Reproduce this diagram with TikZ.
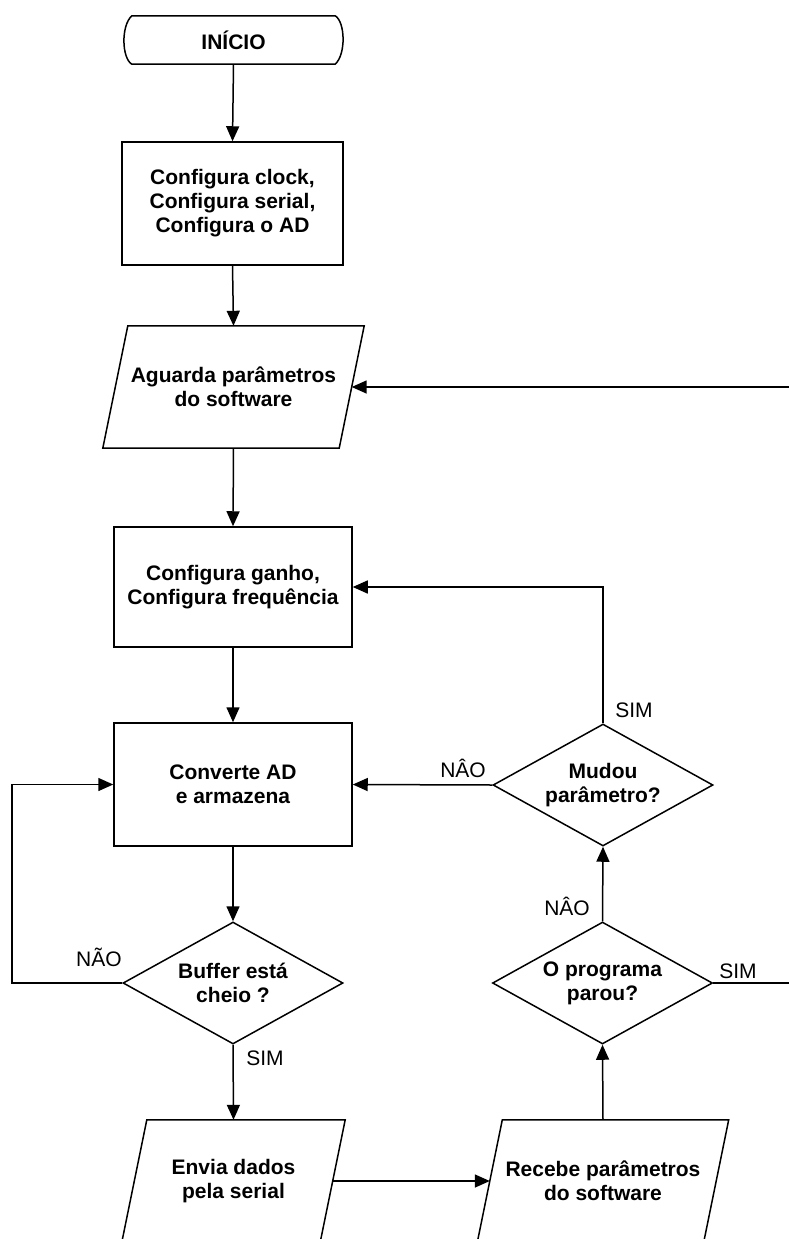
\documentclass[tikz,border=0pt]{standalone}
\usepackage{fontspec}
\setmainfont{Liberation Sans}
\usetikzlibrary{shapes.geometric,arrows.meta,calc}

\tikzset{
  txt/.style={font=\fontsize{21}{24}\selectfont},
  btxt/.style={font=\bfseries\fontsize{21}{24}\selectfont},
  line/.style={line width=1.5pt},
  flow/.style={line width=1.5pt,-{Triangle[length=15pt,width=13pt]}},
  procbox/.style={draw,line width=1.5pt,rectangle,inner sep=0pt,align=center,btxt},
  decision/.style={draw,diamond,line width=1.5pt,inner sep=0pt,aspect=1.8,
    minimum width=220pt,minimum height=122pt,align=center,btxt},
  iobox/.style={rectangle,inner sep=0pt,align=center,btxt,minimum height=122pt},
  lbl/.style={txt,anchor=base,inner sep=0pt}
}

% parallelogram drawn around a named (invisible) rectangle node
\newcommand{\ioshape}[2]{%
  \draw[line] ($(#1.north west)+(#2,0)$) -- ($(#1.north east)+(#2,0)$)
    -- ($(#1.south east)+(-#2,0)$) -- ($(#1.south west)+(-#2,0)$) -- cycle;}

\begin{document}
\begin{tikzpicture}[x=1pt,y=-1pt]
\useasboundingbox (0,0) rectangle (789,1239);
\clip (0,0) rectangle (789,1239);

% ---- nodes ----
\node[rectangle,inner sep=0pt,minimum width=203pt,minimum height=48pt,btxt] (inicio) at (233.5,40) {INÍCIO};
\draw[line,line join=round] (inicio.north west) -- (inicio.north east)
  .. controls +(10,6) and +(11,-10) .. (inicio.south east)
  -- (inicio.south west)
  .. controls +(-10,-6) and +(-11,10) .. (inicio.north west) -- cycle;

\node[procbox,minimum width=221pt,minimum height=123pt] (cfg) at (232.5,203.5)
  {Configura clock,\\Configura serial,\\Configura o AD};

\node[iobox,minimum width=236pt] (aguarda) at (233.5,387) {Aguarda parâmetros\\do software};
\ioshape{aguarda}{12.5}

\node[procbox,minimum width=238pt,minimum height=120pt] (ganho) at (233,587)
  {Configura ganho,\\Configura frequência};

\node[procbox,minimum width=238pt,minimum height=123pt] (conv) at (233,784.5)
  {Converte AD\\e armazena};

\node[decision] (buffer) at (233,983) {Buffer está\\cheio ?};

\node[iobox,minimum width=198pt] (envia) at (233.5,1181) {Envia dados\\pela serial};
\ioshape{envia}{12.5}

\node[iobox,minimum width=226pt] (recebe) at (603,1181) {Recebe parâmetros\\do software};
\ioshape{recebe}{12.5}

\node[decision] (parou) at (602.5,983) {O programa\\parou?};
\node[decision] (mudou) at (603,785) {Mudou\\parâmetro?};

\coordinate (rtop) at (800,387);
\coordinate (rbot) at (800,983);
\coordinate (lft) at (12,983);

% ---- connectors ----
\draw[flow] (inicio.south) -- (cfg.north);
\draw[flow] (cfg.south) -- (aguarda.north);
\draw[flow] (aguarda.south) -- (ganho.north);
\draw[flow] (ganho.south) -- (conv.north);
\draw[flow] (conv.south) -- (buffer.north);
\draw[flow] (buffer.west) -- (lft) |- (conv.west);
\draw[flow] (buffer.south) -- (envia.north);
\draw[flow] (envia.east) -- (recebe.west);
\draw[flow] (recebe.north) -- (parou.south);
\draw[flow] (parou.north) -- (mudou.south);
\draw[flow] (mudou.west) -- (conv.east);
\draw[flow] (mudou.north) |- (ganho.east);
\draw[line] (parou.east) -- (rbot);
\draw[flow] (rtop) -- (aguarda.east);

% ---- branch labels ----
\node[lbl] (nao1) at (99,966) {NÃO};
\node[lbl] (sim1) at (265,1065) {SIM};
\node[lbl] (nao2) at (463,777) {NÂO};
\node[lbl] (sim2) at (634,717) {SIM};
\node[lbl] (nao3) at (567,915) {NÂO};
\node[lbl] (sim3) at (738,978) {SIM};
\end{tikzpicture}
\end{document}
